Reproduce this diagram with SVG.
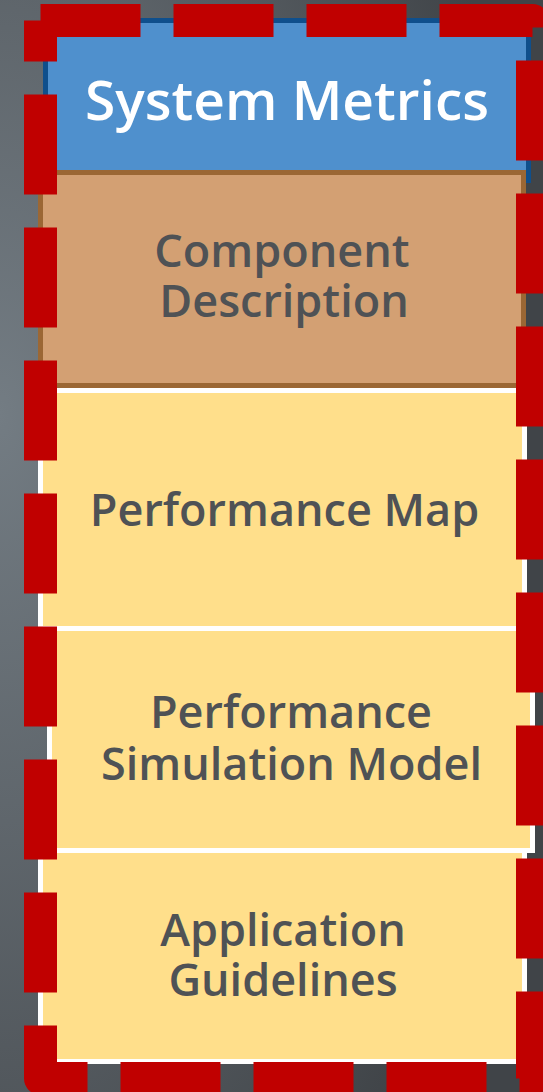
<svg xmlns="http://www.w3.org/2000/svg" width="543" height="1092" viewBox="0 0 543 1092">
  <defs>
    <radialGradient id="bg" cx="0" cy="0.38" r="0.95" fx="0" fy="0.38">
      <stop offset="0" stop-color="#737c83"/>
      <stop offset="1" stop-color="#404448"/>
    </radialGradient>
    <style>
      .lbl { font-family: "Open Sans", "Noto Sans", "Liberation Sans", sans-serif; font-weight: 600; text-anchor: middle; }
      .dark { fill: #4f5255; font-size: 45px; }
      .title { fill: #ffffff; font-size: 55px; }
      .yellow { fill: #ffdf8b; stroke: #ffffff; stroke-width: 5; }
    </style>
  </defs>

  <!-- backdrop -->
  <rect x="0" y="0" width="543" height="1092" fill="url(#bg)"/>

  <!-- header -->
  <g id="system-metrics">
    <rect x="45.5" y="20.5" width="483" height="160" fill="#4f90cd" stroke="#0f4f8c" stroke-width="5"/>
    <text class="lbl title" x="287" y="120">System Metrics</text>
  </g>

  <g id="component-description">
    <rect x="40.5" y="172.5" width="483" height="213" fill="#d3a073" stroke="#9b6734" stroke-width="5"/>
    <text class="lbl dark" x="282" y="267">Component</text>
    <text class="lbl dark" x="284" y="317">Description</text>
  </g>

  <g id="performance-map">
    <rect class="yellow" x="40.5" y="390.5" width="484" height="238"/>
    <text class="lbl dark" x="284.5" y="526">Performance Map</text>
  </g>

  <g id="performance-simulation-model">
    <rect class="yellow" x="49.5" y="628.5" width="483" height="222"/>
    <text class="lbl dark" x="291" y="728">Performance</text>
    <text class="lbl dark" x="291.5" y="780">Simulation Model</text>
  </g>

  <g id="application-guidelines">
    <rect class="yellow" x="40.5" y="850.5" width="484" height="211"/>
    <text class="lbl dark" x="283" y="946">Application</text>
    <text class="lbl dark" x="283" y="996">Guidelines</text>
  </g>

  <!-- dashed group boundary -->
  <g id="connectors">
    <path d="M40.5 20.5 H532.5 V1078.5 H40.5 V20.5" fill="none" stroke="#c00000" stroke-width="33" stroke-dasharray="100 33" stroke-linejoin="round"/>
  </g>
</svg>
